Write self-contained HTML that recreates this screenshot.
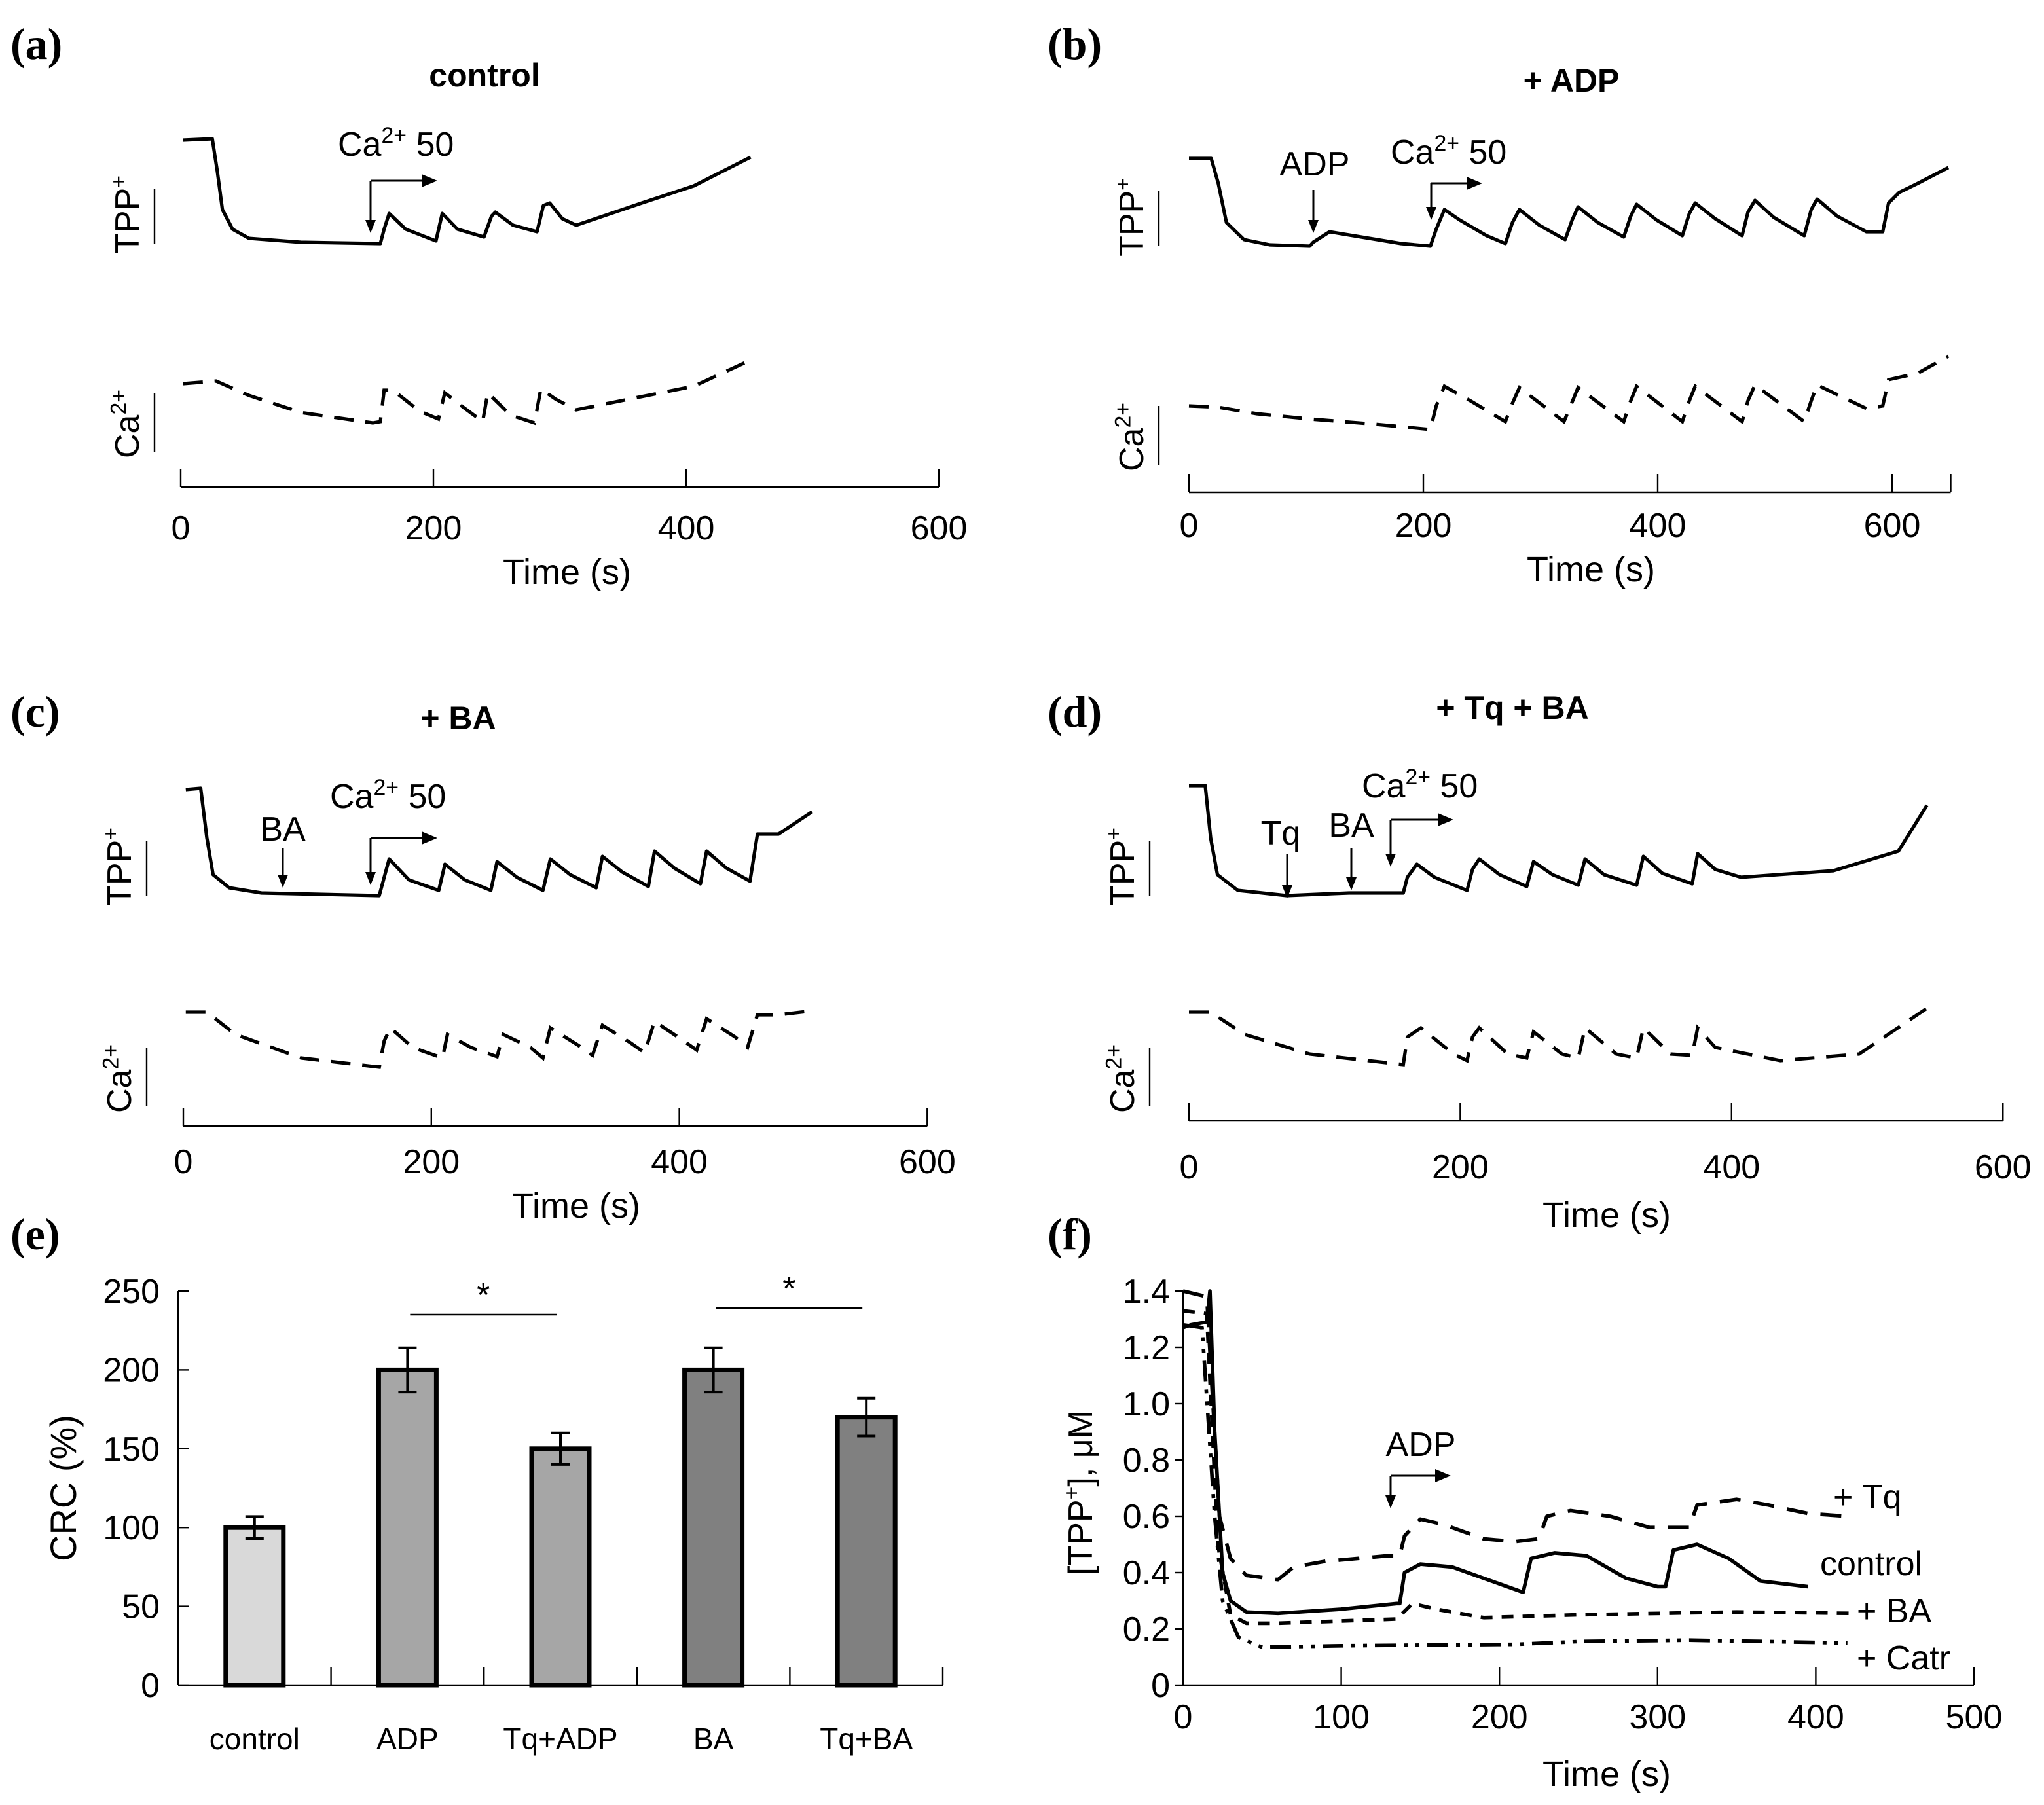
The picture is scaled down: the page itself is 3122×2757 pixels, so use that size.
<!DOCTYPE html>
<html><head><meta charset="utf-8">
<style>
html,body{margin:0;padding:0;background:#fff;}
svg{display:block;}
text{font-family:"Liberation Sans",Arial,sans-serif;fill:#000;}
.lbl{font-family:"Liberation Serif",serif;font-weight:bold;font-size:34px;}
</style></head>
<body>
<svg id="fig" width="3122" height="2757" viewBox="0 0 1561 1378.5" xmlns="http://www.w3.org/2000/svg">
<rect width="1561" height="1378.5" fill="#fff"/>
</svg>
<script>
// ---------- DATA ----------
// panel a (control)
const aTppT=[2,25,29,33,41,54,95,158,161,165,178,202,207,219,240,246,249,263,282,287,292,302,313,365,406,451];
const aTppV=[79,80,55,26,11,4,1,0,11,23,11,2,23,11,5,21,24,14,9,29,31,19,14,31,44,66];
const aCaT=[2,28,54,95,152,158,161,168,189,204,209,225,239,243,261,280,285,297,313,354,406,451];
const aCaV=[37,39,28,15,7,8,32,32,16,10,30,18,8,30,13,7,33,25,17,25,35,55];
// panel b (+ADP)
const bTppT=[0,19,25,32,47,69,103,106,120,147,181,206,211,218,231,254,270,276,282,299,321,327,332,349,371,377,382,399,421,427,432,449,472,477,483,499,525,531,536,553,578,592,597,606,622,648];
const bTppV=[67,67,48,18,5,1,0,3,11,7,2,0,13,28,20,8,2,18,28,16,5,20,30,18,7,23,32,20,8,25,33,21,8,26,35,22,8,28,36,23,11,11,33,41,48,60];
const bCaT=[0,25,58,103,159,206,211,218,240,270,276,282,320,327,332,371,377,382,421,427,432,472,477,483,525,531,536,578,592,597,622,648];
const bCaV=[30,29,24,20,16,12,30,45,34,18,32,44,18,33,44,18,34,45,18,34,45,18,34,46,18,34,46,28,30,50,55,68];
// panel c (+BA)
const cTppT=[2,14,19,24,37,63,158,162,166,182,206,211,227,248,253,269,290,296,312,333,338,354,375,380,396,417,422,438,457,463,480,507];
const cTppV=[81,82,44,16,6,2,0,14,28,12,4,24,12,4,26,14,4,28,16,6,30,18,7,34,21,9,34,21,11,47,47,64];
const cCaT=[2,19,42,95,158,162,167,185,209,213,232,253,258,280,290,296,318,330,338,360,372,380,402,414,422,445,455,463,480,507];
const cCaV=[57,57,40,22,15,35,45,30,22,40,30,23,40,30,22,45,32,24,47,34,26,50,36,28,52,38,30,55,55,58];
// panel d (+Tq +BA)
const dTppT=[0,12,16,21,36,72,118,158,161,168,181,205,209,214,229,249,254,268,287,292,306,330,335,349,371,375,388,407,475,523,544];
const dTppV=[84,84,44,16,4,0,2,2,14,24,14,4,20,28,16,7,26,16,8,28,16,8,30,17,9,32,20,14,19,34,69];
const dCaT=[0,16,41,89,158,161,171,195,205,209,214,235,249,254,275,287,292,315,330,335,355,371,375,388,436,494,544];
const dCaV=[57,57,40,25,17,38,45,25,20,38,45,25,22,42,25,22,45,25,22,45,25,24,45,30,20,25,60];
// panel e (CRC bars)
const eCats=["control","ADP","Tq+ADP","BA","Tq+BA"];
const eVals=[100,200,150,200,170];
const eErr=[7,14,10,14,12];
const eTicks=[0,50,100,150,200,250];
// panel f (TPP+ concentration)
const fCtrlT=[0,5,15,17,20,25,30,40,60,100,135,137,140,150,170,200,215,220,235,255,280,300,305,310,325,345,365,395];
const fCtrlV=[1.27,1.28,1.29,1.4,0.9,0.4,0.3,0.26,0.255,0.27,0.29,0.29,0.4,0.43,0.42,0.36,0.33,0.45,0.47,0.46,0.38,0.35,0.35,0.48,0.5,0.45,0.37,0.35];
const fTqT=[0,15,23,30,40,60,70,90,130,137,140,150,165,190,210,225,230,245,270,295,320,325,350,370,395,420];
const fTqV=[1.4,1.38,0.6,0.45,0.39,0.375,0.42,0.44,0.46,0.46,0.53,0.59,0.57,0.52,0.51,0.52,0.6,0.62,0.6,0.56,0.56,0.64,0.66,0.64,0.61,0.6];
const fBaT=[0,15,22,30,40,60,135,145,160,190,250,350,425];
const fBaV=[1.33,1.32,0.5,0.25,0.22,0.22,0.235,0.29,0.27,0.24,0.25,0.26,0.255];
const fCatrT=[0,12,20,25,35,50,100,210,250,320,420];
const fCatrV=[1.28,1.27,0.6,0.3,0.17,0.135,0.14,0.145,0.155,0.16,0.15];
const fXTicks=[0,100,200,300,400,500];
const fYTicks=[0,0.2,0.4,0.6,0.8,1.0,1.2,1.4];
const fYLabels=["0","0.2","0.4","0.6","0.8","1.0","1.2","1.4"];
const traceXTicks=[0,200,400,600];

// ---------- DRAW ----------
const NS="http://www.w3.org/2000/svg";
const svg=document.getElementById('fig');
function mk(tag,attrs,parent){const e=document.createElementNS(NS,tag);for(const k in attrs)e.setAttribute(k,attrs[k]);(parent||svg).appendChild(e);return e;}
function txt(str,x,y,size,anchor,parent,extra){const t=mk('text',Object.assign({x:x,y:y,'font-size':size,'text-anchor':anchor||'middle'},extra||{}),parent);t.textContent=str;return t;}
function caLabel(x,y,size,parent,suffix){const t=mk('text',{x:x,y:y,'font-size':size},parent);t.appendChild(document.createTextNode('Ca'));const s=mk('tspan',{'font-size':size*0.65,dy:-size*0.38},t);s.textContent='2+';if(suffix){const s2=mk('tspan',{dy:size*0.38},t);s2.textContent=suffix;}return t;}
function arrowDown(x,y1,y2,parent){mk('line',{x1:x,y1:y1,x2:x,y2:y2-8,stroke:'#000','stroke-width':1.5},parent);mk('polygon',{points:`${x-4},${y2-10} ${x+4},${y2-10} ${x},${y2}`,fill:'#000'},parent);}
function bentArrow(x,y1,y2,x2,parent){arrowDown(x,y1,y2,parent);mk('line',{x1:x,y1:y1,x2:x2-10,y2:y1,stroke:'#000','stroke-width':1.5},parent);mk('polygon',{points:`${x2-12},${y1-5} ${x2-12},${y1+5} ${x2},${y1}`,fill:'#000'},parent);}

function tracePanel(cfg){
  const g=mk('g',{});
  
  
  const xs=t=>cfg.x0+t*cfg.k;
  const yT=v=>cfg.tppBase-v*cfg.vs;
  const yC=v=>cfg.caBase-v*cfg.vs;
  const l=txt(cfg.letter,cfg.lx,cfg.ly,34,'start',g,{'class':'lbl'});
  
  const ti=txt(cfg.title,cfg.tx,cfg.ty,25,'middle',g,{'font-weight':'bold'});
  
  const ax=mk('line',{x1:xs(0),y1:cfg.axisY,x2:xs(cfg.tEnd),y2:cfg.axisY,stroke:'#000','stroke-width':1.2},g);
  
  mk('line',{x1:xs(cfg.tEnd),y1:cfg.axisY,x2:xs(cfg.tEnd),y2:cfg.axisY-14,stroke:'#000','stroke-width':1.2},g);
  traceXTicks.forEach(v=>{
    mk('line',{x1:xs(v),y1:cfg.axisY,x2:xs(v),y2:cfg.axisY-14,stroke:'#000','stroke-width':1.2},g);
    const tl=txt(String(v),xs(v),cfg.tickY,26,'middle',g);
    
  });
  const xt=txt('Time (s)',cfg.timeX,cfg.timeY,27,'middle',g);
  
  mk('line',{x1:cfg.sbx,y1:cfg.tppBase-42,x2:cfg.sbx,y2:cfg.tppBase,stroke:'#000','stroke-width':1.2},g);
  mk('line',{x1:cfg.sbx,y1:cfg.caBase-30,x2:cfg.sbx,y2:cfg.caBase+15,stroke:'#000','stroke-width':1.2},g);
  const tg=mk('g',{transform:`translate(${cfg.sbx-12},${cfg.tppBase-22}) rotate(-90)`},g);
  const tt=mk('text',{x:0,y:0,'font-size':26,'text-anchor':'middle'},tg);tt.appendChild(document.createTextNode('TPP'));const sp=mk('tspan',{'font-size':16,dy:-10},tt);sp.textContent='+';
  
  const cg=mk('g',{transform:`translate(${cfg.sbx-12},${cfg.caBase-8}) rotate(-90)`},g);
  const ct=caLabel(-28,0,26,cg);
  
  const p1=mk('polyline',{points:cfg.tT.map((t,i)=>xs(t)+','+yT(cfg.tV[i])).join(' '),fill:'none',stroke:'#000','stroke-width':2.6,'stroke-linejoin':'round'},g);
  
  const p2=mk('polyline',{points:cfg.cT.map((t,i)=>xs(t)+','+yC(cfg.cV[i])).join(' '),fill:'none',stroke:'#000','stroke-width':2.6,'stroke-dasharray':'15 9'},g);
  
  cfg.ann(g);
}

tracePanel({name:'panel-a',letter:'(a)',lx:8,ly:45,title:'control',tx:370,ty:66,x0:138,k:0.965,tEnd:600,axisY:372,tickY:412,timeX:433,timeY:446,tppBase:186,caBase:330,vs:1,sbx:118,tT:aTppT,tV:aTppV,cT:aCaT,cV:aCaV,
 ann:g=>{const c=caLabel(258,119,26,g,' 50');bentArrow(283,138,178,334,g);}});
tracePanel({name:'panel-b',letter:'(b)',lx:800,ly:45,title:'+ ADP',tx:1200,ty:70,x0:908,k:0.895,tEnd:650,axisY:376,tickY:410,timeX:1215,timeY:444,tppBase:188,caBase:340,vs:1,sbx:885,tT:bTppT,tV:bTppV,cT:bCaT,cV:bCaV,
 ann:g=>{const a=txt('ADP',1004,134,26,'middle',g);arrowDown(1003,145,178,g);
  const c=caLabel(1062,125,26,g,' 50');bentArrow(1093,140,168,1132,g);}});
tracePanel({name:'panel-c',letter:'(c)',lx:8,ly:555,title:'+ BA',tx:350,ty:557,x0:140,k:0.947,tEnd:600,axisY:860,tickY:896,timeX:440,timeY:930,tppBase:684,caBase:830,vs:1,sbx:112,tT:cTppT,tV:cTppV,cT:cCaT,cV:cCaV,
 ann:g=>{const a=txt('BA',216,642,26,'middle',g);arrowDown(216,648,678,g);
  const c=caLabel(252,617,26,g,' 50');bentArrow(283,640,676,334,g);}});
tracePanel({name:'panel-d',letter:'(d)',lx:800,ly:555,title:'+ Tq + BA',tx:1155,ty:549,x0:908,k:1.036,tEnd:600,axisY:856,tickY:900,timeX:1227,timeY:937,tppBase:684,caBase:830,vs:1,sbx:878,tT:dTppT,tV:dTppV,cT:dCaT,cV:dCaV,
 ann:g=>{const a=txt('Tq',978,645,26,'middle',g);arrowDown(983,652,686,g);
  const b=txt('BA',1032,639,26,'middle',g);arrowDown(1032,648,680,g);
  const c=caLabel(1040,609,26,g,' 50');bentArrow(1062,626,662,1110,g);}});

// ---------- panel e ----------
(function(){
  const g=mk('g',{});
  
  
  const X0=136,W=116.8,Y0=1287,K=301/250;
  const ys=v=>Y0-v*K;
  const l=txt('(e)',8,954,34,'start',g,{'class':'lbl'});
  
  mk('line',{x1:X0,y1:ys(250),x2:X0,y2:Y0,stroke:'#000','stroke-width':1.2},g);
  mk('line',{x1:X0,y1:Y0,x2:X0+W*eCats.length,y2:Y0,stroke:'#000','stroke-width':1.2},g);
  eTicks.forEach(v=>{mk('line',{x1:X0,y1:ys(v),x2:X0+8,y2:ys(v),stroke:'#000','stroke-width':1.2},g);
    const t=txt(String(v),X0-14,ys(v)+9,26,'end',g);});
  for(let i=1;i<=eCats.length;i++)mk('line',{x1:X0+W*i,y1:Y0,x2:X0+W*i,y2:Y0-14,stroke:'#000','stroke-width':1.2},g);
  const yl=mk('g',{transform:`translate(58,${ys(125)}) rotate(-90)`},g);
  const ylt=txt('CRC (%)',0,0,28,'middle',yl);
  const fills=['#d9d9d9','#a6a6a6','#a6a6a6','#808080','#808080'];
  eCats.forEach((c,i)=>{
    const cx=X0+W*(i+0.5);
    const r=mk('rect',{x:cx-22,y:ys(eVals[i]),width:44,height:Y0-ys(eVals[i]),fill:fills[i],stroke:'#000','stroke-width':3.5},g);
    
    
    const eb=mk('path',{d:`M${cx},${ys(eVals[i]+eErr[i])}V${ys(eVals[i]-eErr[i])}M${cx-7},${ys(eVals[i]+eErr[i])}h14M${cx-7},${ys(eVals[i]-eErr[i])}h14`,stroke:'#000','stroke-width':2,fill:'none'},g);
    
    const t=txt(c,cx,1336,23,'middle',g);
  });
  [[1,2,1004,998],[3,4,999,993]].forEach(s=>{
    const xa=X0+W*(s[0]+0.5)+2,xb=X0+W*(s[1]+0.5)-3;
    const ln=mk('line',{x1:xa,y1:s[2],x2:xb,y2:s[2],stroke:'#000','stroke-width':1.3},g);
    
    const st=txt('*',(xa+xb)/2,s[3],26,'middle',g);
  });
})();

// ---------- panel f ----------
(function(){
  const g=mk('g',{});
  
  
  const X0=903.5,KX=1.208,Y0=1287,KY=215;
  const xs=t=>X0+t*KX, ys=v=>Y0-v*KY;
  const l=txt('(f)',800,954,34,'start',g,{'class':'lbl'});
  
  mk('line',{x1:X0,y1:ys(1.4),x2:X0,y2:Y0,stroke:'#000','stroke-width':1.2},g);
  mk('line',{x1:X0,y1:Y0,x2:xs(500),y2:Y0,stroke:'#000','stroke-width':1.2},g);
  fYTicks.forEach((v,i)=>{mk('line',{x1:X0-6,y1:ys(v),x2:X0,y2:ys(v),stroke:'#000','stroke-width':1.2},g);
    const t=txt(fYLabels[i],X0-10,ys(v)+9,26,'end',g);});
  fXTicks.forEach(v=>{mk('line',{x1:xs(v),y1:Y0,x2:xs(v),y2:Y0-14,stroke:'#000','stroke-width':1.2},g);
    const t=txt(String(v),xs(v),Y0+33,26,'middle',g);});
  const xt=txt('Time (s)',1227,1364,27,'middle',g);
  const yl=mk('g',{transform:`translate(834,1140) rotate(-90)`},g);
  const ylt=mk('text',{x:0,y:0,'font-size':26,'text-anchor':'middle'},yl);
  ylt.appendChild(document.createTextNode('[TPP'));const sp=mk('tspan',{'font-size':17,dy:-10},ylt);sp.textContent='+';const sp2=mk('tspan',{dy:10},ylt);sp2.textContent='], μM';
  
  const series=[[fTqT,fTqV,'16 10','trace-tq'],[fCtrlT,fCtrlV,'none','trace-control'],[fBaT,fBaV,'9 7','trace-ba'],[fCatrT,fCatrV,'16 6 3 6 3 6','trace-catr']];
  series.forEach(s=>{
    const p=mk('polyline',{points:s[0].map((t,i)=>xs(t)+','+ys(s[1][i])).join(' '),fill:'none',stroke:'#000','stroke-width':2.8,'stroke-dasharray':s[2],'stroke-linejoin':'round'},g);
    
    
  });
  const a=txt('ADP',1085,1112,26,'middle',g);
  bentArrow(1062,1127,1152,1108,g);
  [['+ Tq',1400,1152],['control',1390,1203],['+ BA',1418,1239],['+ Catr',1418,1275]].forEach(d=>{
    const t=txt(d[0],d[1],d[2],26,'start',g);});
})();
</script>
</body></html>
